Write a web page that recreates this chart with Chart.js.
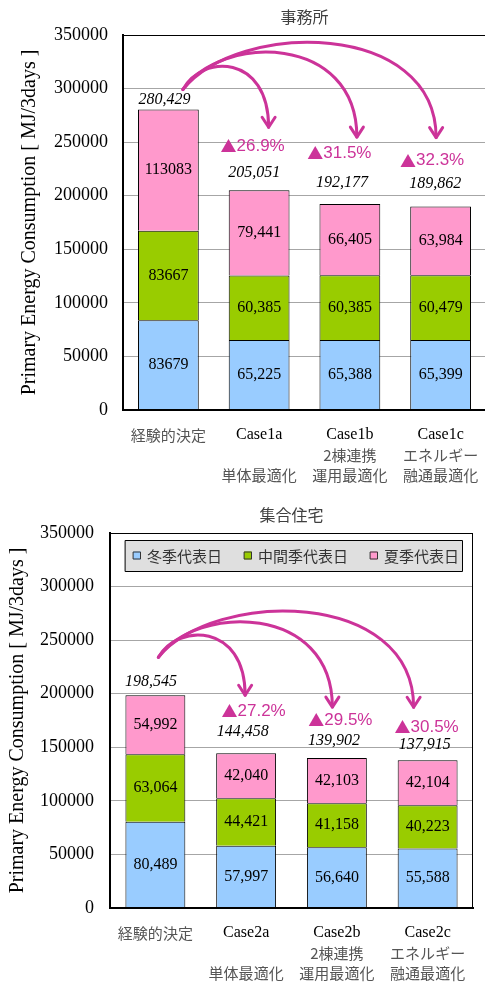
<!DOCTYPE html>
<html>
<head>
<meta charset="utf-8">
<script src="https://cdn.jsdelivr.net/npm/chart.js@4.4.1/dist/chart.umd.min.js"></script>
<style>
  html, body { margin: 0; padding: 0; background: #fff; overflow: hidden; }
  canvas { position: absolute; left: 0; }
  #office-chart { top: 0; }
  #housing-chart { top: 490px; }
</style>
</head>
<body>
<canvas id="office-chart" width="488" height="490"></canvas>
<canvas id="housing-chart" width="485" height="495"></canvas>
<script>
// Categories and labels
const officeCases = ["経験的決定", "Case1a", "Case1b", "Case1c"];
const housingCases = ["経験的決定", "Case2a", "Case2b", "Case2c"];
const caseNotes = [[], ["", "単体最適化"], ["2棟連携", "運用最適化"], ["エネルギー", "融通最適化"]];
const seasons = ["冬季代表日", "中間季代表日", "夏季代表日"];
const yTicks = [0, 50000, 100000, 150000, 200000, 250000, 300000, 350000];
const yTitle = "Primary Energy Consumption [ MJ/3days ]";

// 事務所 (office) values
const officeWinter = [83679, 65225, 65388, 65399];
const officeMid = [83667, 60385, 60385, 60479];
const officeSummer = [113083, 79441, 66405, 63984];
const officeTotals = [280429, 205051, 192177, 189862];

// 集合住宅 (housing) values
const housingWinter = [80489, 57997, 56640, 55588];
const housingMid = [63064, 44421, 41158, 40223];
const housingSummer = [54992, 42040, 42103, 42104];
const housingTotals = [198545, 144458, 139902, 137915];

const seasonColors = ["#99ccff", "#99cc00", "#ff99cc"];
const MAGENTA = "#cc3399";
const SERIF = "'Liberation Serif', 'Times New Roman', serif";
const SANS = "'Liberation Sans', Arial, sans-serif";
const JP = "'Noto Sans CJK JP', sans-serif";

// Draws the frame, value labels, arrows, legend, title and category labels
const overlayPlugin = {
  id: "overlay",
  afterDraw(chart, args, o)
  {
    const ctx = chart.ctx;
    const area = chart.chartArea;
    const datasets = chart.data.datasets;
    const metas = datasets.map((d, i) => chart.getDatasetMeta(i));
    const topBars = metas[metas.length - 1].data;
    const totals = o.totals;

    ctx.save();

    // plot frame
    ctx.strokeStyle = "#000";
    ctx.lineWidth = 1;
    ctx.strokeRect(area.left + 0.5, area.top + 0.5, area.right - area.left - 1, area.bottom - area.top - 1);

    // segment values
    ctx.fillStyle = "#000";
    ctx.textAlign = "center";
    ctx.textBaseline = "middle";
    ctx.font = "16px " + SERIF;
    metas.forEach((meta, di) =>
    {
      meta.data.forEach((bar, i) =>
      {
        const v = datasets[di].data[i];
        const txt = o.plainCats.includes(i) ? String(v) : v.toLocaleString("en-US");
        ctx.fillText(txt, bar.x, (bar.y + bar.base) / 2);
      });
    });

    // totals above bars
    ctx.font = "italic 16px " + SERIF;
    topBars.forEach((bar, i) =>
    {
      ctx.fillText(totals[i].toLocaleString("en-US"), bar.x + o.totalDx[i], bar.y - o.totalLift[i]);
    });

    // reduction rate vs first case
    ctx.fillStyle = MAGENTA;
    ctx.textAlign = "left";
    for (let i = 1; i < totals.length; i++)
    {
      const pct = ((totals[0] - totals[i]) / totals[0] * 100).toFixed(1) + "%";
      ctx.font = "16px " + JP;
      const w1 = ctx.measureText("▲").width;
      ctx.font = "17px " + SANS;
      const w2 = ctx.measureText(pct).width;
      const x0 = topBars[i].x + o.pctDx[i] - (w1 + w2) / 2;
      const y = topBars[i].y - o.pctLift[i];
      ctx.fillText(pct, x0 + w1, y);
      ctx.font = "16px " + JP;
      ctx.fillText("▲", x0, y);
    }
    ctx.textAlign = "center";

    // curved arrows
    ctx.strokeStyle = MAGENTA;
    ctx.lineWidth = 3;
    ctx.lineCap = "round";
    ctx.lineJoin = "round";
    const sx = topBars[0].x + o.arrowStart[0];
    const sy = topBars[0].y - o.arrowStart[1];
    for (let i = 1; i < totals.length; i++)
    {
      const a = o.arrows[i - 1];
      const ex = topBars[i].x + a.dx;
      const ey = topBars[i].y - a.lift;
      const peak = sy - a.rise;
      const c = (peak - 0.125 * (sy + ey)) / 0.75;
      ctx.beginPath();
      ctx.moveTo(sx, sy);
      ctx.bezierCurveTo(sx + 0.22 * (ex - sx), c, ex, c, ex, ey);
      ctx.stroke();
      ctx.beginPath();
      ctx.moveTo(ex - 6.5, ey - 10);
      ctx.lineTo(ex, ey);
      ctx.lineTo(ex + 6.5, ey - 10);
      ctx.stroke();
    }

    // legend box inside the plot
    if (o.legend)
    {
      const lx = area.left + 15, ly = area.top + 7, lw = area.right - area.left - 26, lh = 31;
      ctx.fillStyle = "#dfdfdf";
      ctx.fillRect(lx, ly, lw, lh);
      ctx.strokeStyle = "#000";
      ctx.lineWidth = 1;
      ctx.strokeRect(lx + 0.5, ly + 0.5, lw, lh);
      ctx.font = "15px " + JP;
      ctx.textAlign = "left";
      let x = lx + 8;
      const cy = ly + lh / 2;
      datasets.forEach(d =>
      {
        ctx.fillStyle = d.backgroundColor;
        ctx.fillRect(x, cy - 4, 8, 8);
        ctx.strokeStyle = "#333";
        ctx.strokeRect(x + 0.5, cy - 3.5, 7, 7);
        ctx.fillStyle = "#333";
        ctx.fillText(d.label, x + 14, cy + 1);
        x += 14 + ctx.measureText(d.label).width + 22;
      });
    }

    // chart title
    ctx.fillStyle = "#404040";
    ctx.textAlign = "center";
    ctx.font = "16px " + JP;
    ctx.fillText(o.title, (area.left + area.right) / 2, area.top - 18);

    // category labels
    const xs = chart.scales.x;
    chart.data.labels.forEach((lines, i) =>
    {
      const x = xs.getPixelForValue(i);
      lines.forEach((line, li) =>
      {
        const y = area.bottom + 25 + li * 20;
        if (/^Case/.test(line))
        {
          ctx.fillStyle = "#000";
          ctx.font = "16px " + SERIF;
        }
        else
        {
          ctx.fillStyle = "#555";
          ctx.font = "15px " + JP;
        }
        ctx.fillText(line, x, y);
      });
    });

    ctx.restore();
  }
};

function makeChart(id, cases, winter, mid, summer, o)
{
  const values = [winter, mid, summer];
  return new Chart(document.getElementById(id),
    {
      type: "bar",
      data: {
        labels: cases.map((c, i) => [c].concat(caseNotes[i])),
        datasets: seasons.map((s, i) => ({
          label: s,
          data: values[i],
          backgroundColor: seasonColors[i],
          borderColor: "#000",
          borderWidth: 1,
          borderSkipped: "start",
          barPercentage: o.barPct,
          categoryPercentage: 1
        }))
      },
      options: {
        responsive: false,
        animation: false,
        devicePixelRatio: 1,
        layout: { padding: { top: o.top, right: o.padRight, left: 0, bottom: 0 } },
        plugins: {
          legend: { display: false },
          tooltip: { enabled: false },
          overlay: o
        },
        scales: {
          x: {
            stacked: true,
            grid: { display: false, drawTicks: false },
            border: { color: "#000", width: 2 },
            ticks: { display: false },
            afterFit: s => { s.height = o.xHeight; }
          },
          y: {
            stacked: true,
            min: yTicks[0],
            max: yTicks[yTicks.length - 1],
            afterBuildTicks: s => { s.ticks = yTicks.map(v => ({ value: v })); },
            ticks: {
              padding: o.tickPad,
              color: "#000",
              font: { family: SERIF, size: 18 },
              callback: v => String(v)
            },
            grid: { color: "#a6a6a6", drawTicks: false },
            border: { color: "#000", width: 2 },
            title: {
              display: true,
              text: yTitle,
              color: "#000",
              font: { family: SERIF, size: 20 },
              padding: { top: o.titlePad, bottom: 0 }
            },
            afterFit: s => { s.width = o.yWidth; }
          }
        }
      },
      plugins: [overlayPlugin]
    });
}

makeChart("office-chart", officeCases, officeWinter, officeMid, officeSummer, {
  title: "事務所",
  legend: false,
  totals: officeTotals,
  plainCats: [0],
  top: 35, padRight: 2, xHeight: 80, yWidth: 123, tickPad: 15, titlePad: 18, barPct: 0.67,
  totalDx: [-4, -5, -8, -5.5],
  totalLift: [10, 18, 21, 23],
  pctDx: [0, -6.5, -10.5, -8.5],
  pctLift: [0, 44, 51, 46],
  arrowStart: [14.5, 20],
  arrows: [{ dx: 9.5, lift: 63, rise: 22 }, { dx: 7, lift: 67, rise: 36 }, { dx: -4.5, lift: 69, rise: 46 }]
});

makeChart("housing-chart", housingCases, housingWinter, housingMid, housingSummer, {
  title: "集合住宅",
  legend: true,
  totals: housingTotals,
  plainCats: [],
  top: 43, padRight: 12, xHeight: 77, yWidth: 110, tickPad: 16, titlePad: 6, barPct: 0.66,
  totalDx: [-4.5, -3.5, -3, -3],
  totalLift: [13, 21, 17, 15],
  pctDx: [0, 7.5, 3.5, -1],
  pctLift: [0, 42, 38, 33],
  arrowStart: [3, 38],
  arrows: [{ dx: -1, lift: 58, rise: 21 }, { dx: -4.5, lift: 51, rise: 34 }, { dx: -14, lift: 53, rise: 45 }]
});
</script>
</body>
</html>
